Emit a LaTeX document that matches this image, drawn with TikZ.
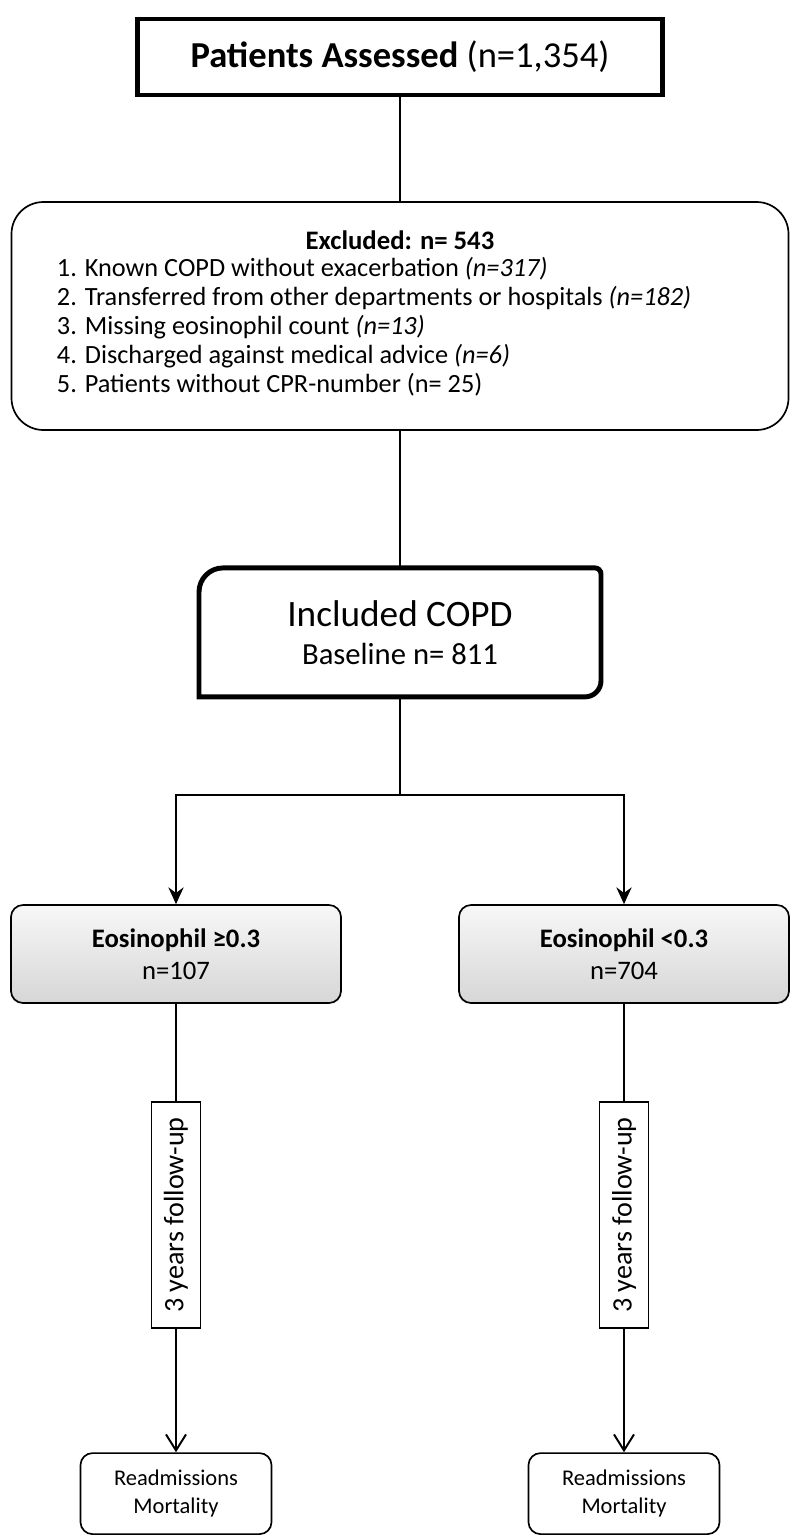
\documentclass[tikz,border=0pt]{standalone}
\usepackage{fontspec}
\setmainfont{Carlito}
\usetikzlibrary{arrows.meta}

\begin{document}
\begin{tikzpicture}[
    line width=1.4pt,
    box/.style={
        draw,
        line width=1.2pt,
        align=center,
        inner sep=0pt
    },
    thickbox/.style={box, line width=3.2pt},
    grpbox/.style={
        box,
        rounded corners=3mm,
        top color=gray!6,
        bottom color=gray!32,
        minimum width=82.5mm,
        minimum height=24.5mm,
        font=\fontsize{19}{22.8}\selectfont
    },
    fubox/.style={box, rotate=90, minimum width=56.5mm, minimum height=12.25mm,
        font=\fontsize{20}{22}\selectfont},
    outbox/.style={box, rounded corners=3mm, minimum width=47.75mm,
        minimum height=20.25mm, font=\fontsize{16}{20}\selectfont},
    arr/.style={-{Stealth[length=4.2mm, width=3.8mm, inset=1.4mm]}, line width=1.4pt},
    arrb/.style={-{Straight Barb[length=4mm, width=5mm]}, line width=1.4pt}
]
    \useasboundingbox (0,0) rectangle (20,-38.5);

    \node[thickbox, minimum width=131.25mm, minimum height=19mm,
        font=\fontsize{26}{30}\selectfont] (assessed) at (10,-1.425)
        {\textbf{Patients Assessed} (n=1,354)};

    \node[box, rounded corners=8mm, minimum width=194.25mm, minimum height=57mm]
        (excl) at (10,-7.9) {};
    \node[font=\fontsize{19}{20.6}\selectfont\bfseries] (exclhead) at (10,-6.0)
        {Excluded: n= 543};
    \node[anchor=west, align=left, inner sep=0pt, font=\fontsize{18.7}{20.6}\selectfont]
        (excllist) at (1.4,-8.17)
        {1. Known COPD without exacerbation \textit{(n=317)}\\
         2. Transferred from other departments or hospitals \textit{(n=182)}\\
         3. Missing eosinophil count \textit{(n=13)}\\
         4. Discharged against medical advice \textit{(n=6)}\\
         5. Patients without CPR-number (n= 25)};

    \node[minimum width=100mm, minimum height=31.75mm, align=center,
        font=\fontsize{21.8}{27}\selectfont] (incl) at (10,-15.81)
        {{\fontsize{26.5}{30}\selectfont Included COPD}\\ Baseline n= 811};
    \draw[line width=3.5pt] (incl.south west)
        -- ([yshift=-6mm]incl.north west) arc[start angle=180, end angle=90, radius=6mm]
        -- ([xshift=-1.5mm]incl.north east) arc[start angle=90, end angle=0, radius=1.5mm]
        -- ([yshift=4mm]incl.south east) arc[start angle=0, end angle=-90, radius=4mm]
        -- cycle;

    \coordinate (split) at (10,-19.875);

    \node[grpbox] (eosL) at (4.4,-23.85) {\textbf{Eosinophil ≥0.3}\\ n=107};
    \node[grpbox] (eosR) at (15.6,-23.85) {\textbf{Eosinophil <0.3}\\ n=704};

    \node[fubox] (fuL) at (4.4,-30.375) {3 years follow-up};
    \node[fubox] (fuR) at (15.6,-30.375) {3 years follow-up};

    \node[outbox] (readL) at (4.4,-37.34) {Readmissions\\ Mortality};
    \node[outbox] (readR) at (15.6,-37.34) {Readmissions\\ Mortality};

    \draw (assessed) -- (excl);
    \draw (excl) -- (incl);
    \draw (incl) -- (split);
    \draw[arr] (split) -| (eosL);
    \draw[arr] (split) -| (eosR);
    \draw (eosL) -- (fuL);
    \draw (eosR) -- (fuR);
    \draw[arrb] (fuL) -- (readL);
    \draw[arrb] (fuR) -- (readR);
\end{tikzpicture}
\end{document}
